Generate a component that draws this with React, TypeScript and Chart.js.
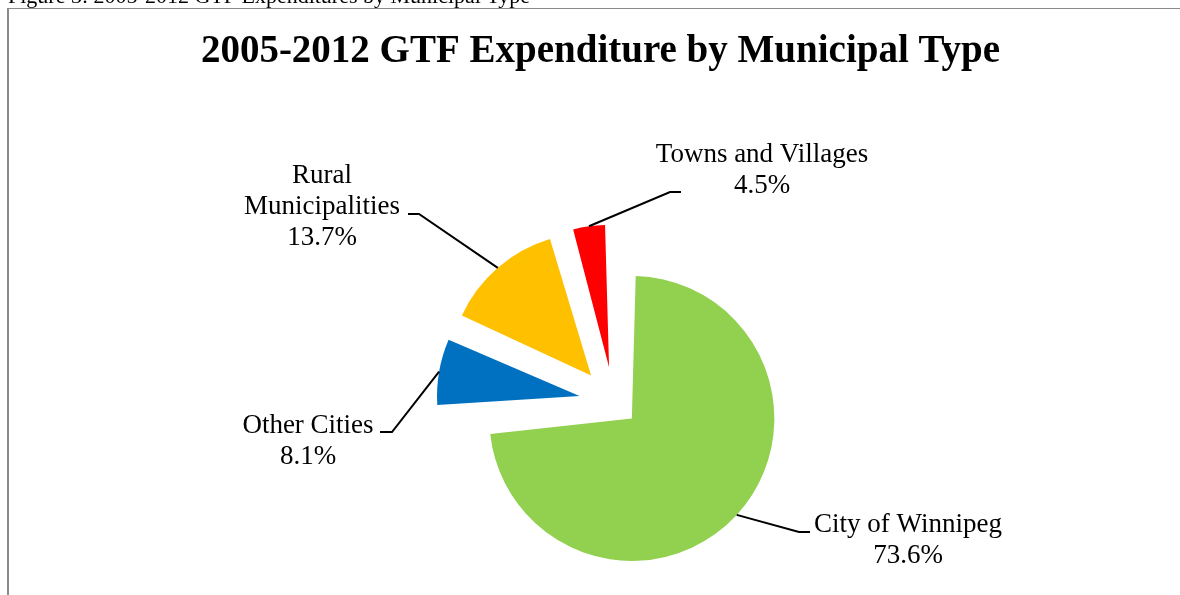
import React, { useEffect, useRef } from 'react';
import { Chart, registerables } from 'chart.js';

Chart.register(...registerables);

const CAPTION = 'Figure 3: 2005-2012 GTF Expenditures by Municipal Type';
const TITLE = '2005-2012 GTF Expenditure by Municipal Type';

const categories = ['City of Winnipeg', 'Other Cities', 'Rural Municipalities', 'Towns and Villages'];
const labelLines = [['City of Winnipeg'], ['Other Cities'], ['Rural', 'Municipalities'], ['Towns and Villages']];
const shares = [73.6, 8.1, 13.7, 4.5];
const colors = ['#92D050', '#0070C0', '#FFC000', '#FF0000'];
const explode = [97, 140, 140, 140];

// label placement relative to the pie centre (layout only)
const LABEL_LAYOUT = [
  { dx: 294, dy: 130, elbow: [185, 130], end: [196, 130] },
  { dx: -306, dy: 31, elbow: [-222, 30], end: [-234, 30] },
  { dx: -292, dy: -219, elbow: [-195, -188], end: [-206, -188] },
  { dx: 148, dy: -240, elbow: [56, -210], end: [67, -210] },
];

const pieDecor = {
  id: 'pieDecor',
  beforeDatasetsDraw(chart: any) {
    const meta = chart.getDatasetMeta(0);
    const R = meta.controller.outerRadius;
    meta.data.forEach((arc: any) => {
      const off = (arc.options.offset || 0) / 4;
      const fix = 1 - Math.sin(Math.min(Math.PI, arc.circumference));
      arc.outerRadius = R - off * fix;
    });
  },
  afterDatasetsDraw(chart: any) {
    const ctx = chart.ctx as CanvasRenderingContext2D;
    const meta = chart.getDatasetMeta(0);
    const R = meta.controller.outerRadius;
    ctx.save();
    ctx.fillStyle = '#000';
    ctx.textBaseline = 'alphabetic';
    ctx.textAlign = 'left';
    ctx.font = '22px "Liberation Serif"';
    ctx.fillText(CAPTION, 8, 3);
    ctx.textAlign = 'center';
    ctx.font = 'bold 39px "Liberation Serif"';
    ctx.fillText(TITLE, 600.5, 62);

    meta.data.forEach((arc: any, i: number) => {
      const L = LABEL_LAYOUT[i];
      const mid = (arc.startAngle + arc.endAngle) / 2;
      const d = (arc.options.offset || 0) / 4 + R;
      const sx = arc.x + Math.cos(mid) * d;
      const sy = arc.y + Math.sin(mid) * d;
      ctx.beginPath();
      ctx.moveTo(sx, sy);
      ctx.lineTo(arc.x + L.elbow[0], arc.y + L.elbow[1]);
      ctx.lineTo(arc.x + L.end[0], arc.y + L.end[1]);
      ctx.strokeStyle = '#000';
      ctx.lineWidth = 2;
      ctx.stroke();
      const lines = [...labelLines[i], shares[i].toFixed(1) + '%'];
      ctx.font = '27px "Liberation Serif"';
      ctx.textAlign = 'center';
      lines.forEach((t, k) => ctx.fillText(t, arc.x + L.dx, arc.y + L.dy + k * 31));
    });
    ctx.restore();
  },
};

export default function App() {
  const ref = useRef<HTMLCanvasElement | null>(null);
  useEffect(() => {
    if (!ref.current) return;
    const chart = new Chart(ref.current, {
      type: 'pie',
      data: {
        labels: categories,
        datasets: [
          {
            data: shares,
            backgroundColor: colors,
            borderWidth: 0,
            offset: explode,
            radius: 142.5,
          } as any,
        ],
      },
      options: {
        responsive: false,
        animation: false,
        events: [],
        layout: { padding: { left: 48, right: 0, top: 209, bottom: 0 } },
        plugins: {
          legend: { display: false },
          tooltip: { enabled: false },
          title: { display: false },
        },
      },
      plugins: [pieDecor],
    });
    return () => chart.destroy();
  }, []);
  return (
    <div style={{ position: 'fixed', left: 0, top: 0, width: 1180, height: 595, overflow: 'hidden', background: '#fff' }}>
      <div
        style={{
          position: 'absolute',
          left: 7,
          top: 8,
          width: 1250,
          height: 650,
          borderLeft: '2px solid #8a8a8a',
          borderTop: '1px solid #8a8a8a',
        }}
      />
      <canvas ref={ref} width={1180} height={595} style={{ position: 'absolute', left: 0, top: 0, display: 'block' }} />
    </div>
  );
}
